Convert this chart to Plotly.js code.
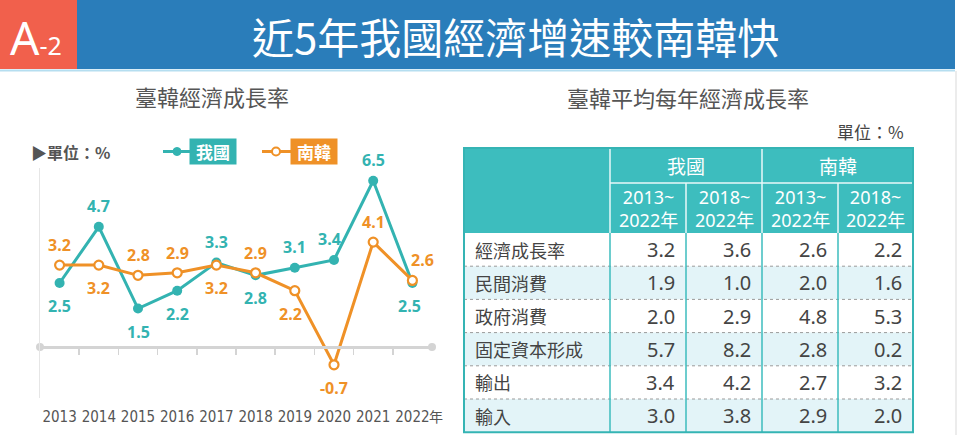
<!DOCTYPE html>
<html>
<head>
<meta charset="utf-8">
<script src="https://cdn.plot.ly/plotly-3.0.1.min.js"></script>
<style>html,body{margin:0;padding:0;background:#fff;}#chart{width:960px;height:435px;}</style>
</head>
<body>
<div id="chart"></div>
<script>
// ---------- data ----------
const years = [2013, 2014, 2015, 2016, 2017, 2018, 2019, 2020, 2021, 2022];
const yearLabels = ['2013', '2014', '2015', '2016', '2017', '2018', '2019', '2020', '2021', '2022'];
const twGrowth = [2.5, 4.7, 1.5, 2.2, 3.3, 2.8, 3.1, 3.4, 6.5, 2.5];
const krGrowth = [3.2, 3.2, 2.8, 2.9, 3.2, 2.9, 2.2, -0.7, 4.1, 2.6];
const twName = '我國';
const krName = '南韓';

const tableRows = ['經濟成長率', '民間消費', '政府消費', '固定資本形成', '輸出', '輸入'];
const periodLabels = ['2013~<br>2022年', '2018~<br>2022年'];
const tw2013_2022 = [3.2, 1.9, 2.0, 5.7, 3.4, 3.0];
const tw2018_2022 = [3.6, 1.0, 2.9, 8.2, 4.2, 3.8];
const kr2013_2022 = [2.6, 2.0, 4.8, 2.8, 2.7, 2.9];
const kr2018_2022 = [2.2, 1.6, 5.3, 0.2, 3.2, 2.0];

// ---------- style ----------
const W = 960, H = 435;
const TEAL = '#33b3b1', ORANGE = '#ef9127', HEAD = '#3dbdbe', BLUE = '#2a7dba', RED = '#f1604c';
const CJK = '"Noto Sans CJK TC", "Noto Sans", sans-serif';
const NUM = '"Noto Sans", "Noto Sans CJK TC", sans-serif';
const px = x => x / W;
const py = y => 1 - y / H;

// label side (1 above, -1 below) and small x nudges
const twSide = [-1, 1, -1, -1, 1, -1, 1, 1, 1, -1];
const krSide = [1, -1, 1, 1, -1, 1, -1, -1, 1, 1];
const twDx = [0, 0, 0, 0, 0, 0, 0, -5, 0, -3];
const krDx = [0, 0, 0, 0, 0, 0, -4, 0, 0, 10];

const yRange = [-2, 7];
const yDom = [py(398), py(168)];
const zeroPos = yDom[0] + (0 - yRange[0]) / (yRange[1] - yRange[0]) * (yDom[1] - yDom[0]);

const traces = [
  { x: [years[0] - 0.5, years[years.length - 1] + 0.5], y: [0, 0], xaxis: 'x2', yaxis: 'y',
    mode: 'markers', marker: { color: '#d4d4d4', size: 8 }, hoverinfo: 'skip', showlegend: false, cliponaxis: false },
  { x: years, y: twGrowth, name: twName, mode: 'lines+markers', cliponaxis: false,
    line: { color: TEAL, width: 3 }, marker: { color: TEAL, size: 10 }, showlegend: false },
  { x: years, y: krGrowth, name: krName, mode: 'lines+markers', cliponaxis: false,
    line: { color: ORANGE, width: 3 },
    marker: { color: '#ffffff', size: 9, line: { color: ORANGE, width: 2.2 } }, showlegend: false }
];

const annotations = [];
const shapes = [];
const A = (o) => annotations.push(Object.assign({ xref: 'paper', yref: 'paper', showarrow: false, xanchor: 'center', yanchor: 'middle' }, o));

// data labels
years.forEach((yr, i) => {
  annotations.push({ x: yr, y: twGrowth[i], xref: 'x', yref: 'y', showarrow: false, xanchor: 'center', yanchor: 'middle',
    text: twGrowth[i].toFixed(1), xshift: twDx[i], yshift: twSide[i] > 0 ? 21 : -23,
    font: { family: NUM, size: 16, color: TEAL, weight: 'bold' } });
  annotations.push({ x: yr, y: krGrowth[i], xref: 'x', yref: 'y', showarrow: false, xanchor: 'center', yanchor: 'middle',
    text: krGrowth[i].toFixed(1), xshift: krDx[i], yshift: krSide[i] > 0 ? 20 : -23,
    font: { family: NUM, size: 16, color: ORANGE, weight: 'bold' } });
});

// header banner
shapes.push({ type: 'rect', xref: 'paper', yref: 'paper', x0: 0, x1: px(955), y0: py(69), y1: 1, fillcolor: BLUE, line: { width: 0 }, layer: 'below' });
shapes.push({ type: 'rect', xref: 'paper', yref: 'paper', x0: 0, x1: px(77), y0: py(69), y1: 1, fillcolor: RED, line: { width: 0 }, layer: 'below' });
shapes.push({ type: 'line', xref: 'paper', yref: 'paper', x0: 0, x1: px(955), y0: py(70.5), y1: py(70.5), line: { color: '#b5def0', width: 2 } });
shapes.push({ type: 'line', xref: 'paper', yref: 'paper', x0: px(956), x1: px(956), y0: py(71), y1: 0, line: { color: '#e6e6e6', width: 1.5 } });
A({ x: px(8), y: py(37), xanchor: 'left', text: "A<span style='font-size:25px'>-2</span>",
    font: { family: NUM, size: 46, color: '#ffffff' } });
A({ x: px(515), y: py(36), text: '近5年我國經濟增速較南韓快',
    font: { family: CJK, size: 42, color: '#ffffff' } });

// left chart titles & legend
A({ x: px(212), y: py(96), text: '臺韓經濟成長率', font: { family: CJK, size: 22, color: '#555555' } });
A({ x: px(29), y: py(152), xanchor: 'left', text: '▶單位：%', font: { family: CJK, size: 16, color: '#555555', weight: 'bold' } });
shapes.push({ type: 'line', xref: 'paper', yref: 'paper', x0: px(163), x1: px(191), y0: py(151.5), y1: py(151.5), line: { color: TEAL, width: 3 } });
shapes.push({ type: 'circle', xref: 'paper', yref: 'paper', x0: px(173), x1: px(181), y0: py(155.5), y1: py(147.5), fillcolor: TEAL, line: { color: TEAL, width: 1 } });
A({ x: px(213), y: py(151.5), width: 44, height: 23, bgcolor: TEAL, text: twName, font: { family: CJK, size: 17, color: '#ffffff', weight: 'bold' } });
shapes.push({ type: 'line', xref: 'paper', yref: 'paper', x0: px(262), x1: px(292), y0: py(151.5), y1: py(151.5), line: { color: ORANGE, width: 3 } });
shapes.push({ type: 'circle', xref: 'paper', yref: 'paper', x0: px(272), x1: px(280), y0: py(155.5), y1: py(147.5), fillcolor: '#ffffff', line: { color: ORANGE, width: 2 } });
A({ x: px(313.5), y: py(151.5), width: 44, height: 23, bgcolor: ORANGE, text: krName, font: { family: CJK, size: 17, color: '#ffffff', weight: 'bold' } });
A({ x: px(427), y: py(416), xanchor: 'left', text: '年', font: { family: CJK, size: 14, color: '#555555' } });

// ---------- table ----------
const colX = [464, 610, 686, 762, 838, 913];
const headTop = 148, headMid = 183, headBot = 233, rowH = 33.2;
const nRows = tableRows.length;
const tableBot = headBot + rowH * nRows;
const cols = [tw2013_2022, tw2018_2022, kr2013_2022, kr2018_2022];

A({ x: px(688), y: py(97), text: '臺韓平均每年經濟成長率', font: { family: CJK, size: 22, color: '#555555' } });
A({ x: px(906), y: py(131), xanchor: 'right', text: '單位：%', font: { family: CJK, size: 17, color: '#444444' } });

tableRows.forEach((lab, r) => {
  const y0 = headBot + r * rowH, y1 = y0 + rowH;
  shapes.push({ type: 'rect', xref: 'paper', yref: 'paper', x0: px(colX[0]), x1: px(colX[5]), y0: py(y1), y1: py(y0),
    fillcolor: r % 2 ? '#e3f4f8' : '#ffffff', line: { width: 0 }, layer: 'below' });
  if (r > 0) shapes.push({ type: 'line', xref: 'paper', yref: 'paper', x0: px(colX[0]), x1: px(colX[5]), y0: py(y0), y1: py(y0),
    line: { color: '#9a9a9a', width: 1, dash: 'dot' } });
  const yc = y0 + rowH / 2;
  A({ x: px(colX[0] + 9), y: py(yc), xanchor: 'left', text: lab, font: { family: CJK, size: 18, color: '#444444' } });
  cols.forEach((c, k) => {
    A({ x: px(colX[k + 2] - 9), y: py(yc), xanchor: 'right', text: c[r].toFixed(1), font: { family: NUM, size: 20, color: '#444444' } });
  });
});
shapes.push({ type: 'rect', xref: 'paper', yref: 'paper', x0: px(colX[0]), x1: px(colX[5]), y0: py(headBot), y1: py(headTop), fillcolor: HEAD, line: { width: 0 } });
for (let k = 1; k < 5; k++) {
  shapes.push({ type: 'line', xref: 'paper', yref: 'paper', x0: px(colX[k]), x1: px(colX[k]), y0: py(tableBot), y1: py(headBot), line: { color: HEAD, width: 1.5 } });
  const top = (k === 1 || k === 3) ? headTop : headMid;
  shapes.push({ type: 'line', xref: 'paper', yref: 'paper', x0: px(colX[k]), x1: px(colX[k]), y0: py(headBot), y1: py(top), line: { color: '#e8f8f8', width: 1.5 } });
}
shapes.push({ type: 'line', xref: 'paper', yref: 'paper', x0: px(colX[1]), x1: px(colX[5]), y0: py(headMid), y1: py(headMid), line: { color: '#e8f8f8', width: 1.5 } });
shapes.push({ type: 'rect', xref: 'paper', yref: 'paper', x0: px(colX[0]), x1: px(colX[5]), y0: py(tableBot), y1: py(headTop), line: { color: '#35b4b4', width: 2 } });
A({ x: px((colX[1] + colX[3]) / 2), y: py((headTop + headMid) / 2), text: twName, font: { family: CJK, size: 19, color: '#ffffff' } });
A({ x: px((colX[3] + colX[5]) / 2), y: py((headTop + headMid) / 2), text: krName, font: { family: CJK, size: 19, color: '#ffffff' } });
for (let k = 0; k < 4; k++) {
  A({ x: px((colX[k + 1] + colX[k + 2]) / 2), y: py((headMid + headBot) / 2),
      text: periodLabels[k % 2], font: { family: NUM, size: 18, color: '#ffffff' } });
}

const layout = {
  width: W, height: H, margin: { l: 0, r: 0, t: 0, b: 0 }, paper_bgcolor: '#ffffff', plot_bgcolor: 'rgba(0,0,0,0)',
  showlegend: false,
  xaxis: { domain: [px(40), px(432)], range: [years[0] - 0.5, years[years.length - 1] + 0.5], tickvals: years, ticktext: yearLabels,
    showgrid: false, zeroline: false, showline: false, ticks: '', ticklabelstandoff: 8,
    tickfont: { family: '"Liberation Sans Narrow", "DejaVu Sans Condensed", sans-serif', size: 15, color: '#555555' } },
  xaxis2: { overlaying: 'x', anchor: 'free', position: zeroPos, domain: [px(40), px(432)],
    range: [years[0] - 0.5, years[years.length - 1] + 0.5], tickvals: years.slice(1).map(v => v - 0.5),
    showticklabels: false, showgrid: false, zeroline: false, showline: true, linecolor: '#d4d4d4', linewidth: 3,
    ticks: 'outside', ticklen: 6, tickwidth: 1.5, tickcolor: '#d4d4d4' },
  yaxis: { domain: yDom, range: yRange, showgrid: false, zeroline: false, showticklabels: false,
    showline: true, linecolor: '#e6e6e6', linewidth: 1.5, ticks: '' },
  shapes: shapes, annotations: annotations
};

Plotly.newPlot('chart', traces, layout, { staticPlot: true, displayModeBar: false });
</script>
</body>
</html>
